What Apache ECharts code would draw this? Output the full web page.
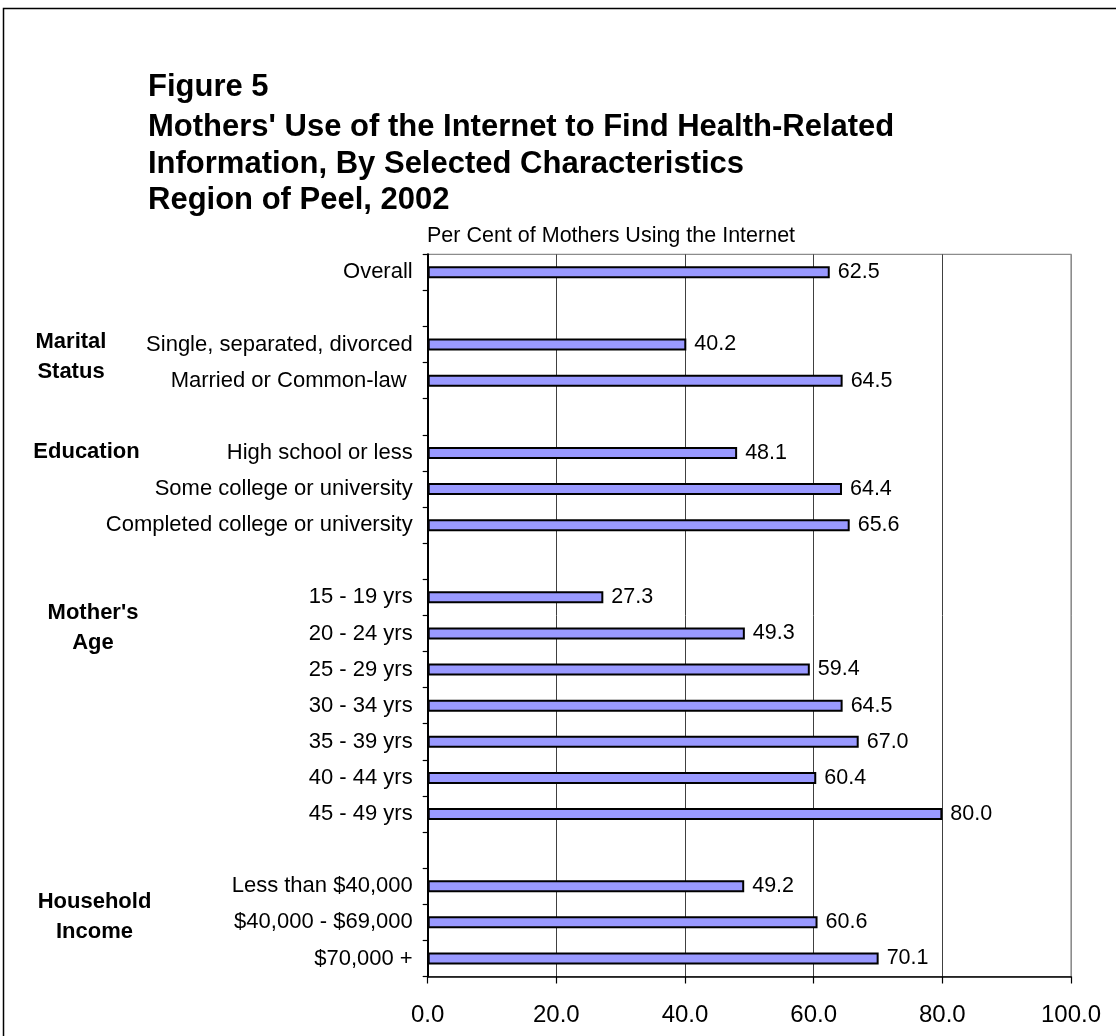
<!DOCTYPE html>
<html><head><meta charset="utf-8">
<script src="https://cdn.jsdelivr.net/npm/echarts@6/dist/echarts.min.js"></script>
<style>html,body{margin:0;padding:0;background:#fff}#c{width:1116px;height:1036px}</style>
</head><body><div id="c"></div><script>
const titleLines = ["Figure 5", "Mothers' Use of the Internet to Find Health-Related", "Information, By Selected Characteristics", "Region of Peel, 2002"];
const axisTitle = "Per Cent of Mothers Using the Internet";
const categories = ["Overall", "", "Single, separated, divorced", "Married or Common-law ", "",
  "High school or less", "Some college or university", "Completed college or university", "",
  "15 - 19 yrs", "20 - 24 yrs", "25 - 29 yrs", "30 - 34 yrs", "35 - 39 yrs", "40 - 44 yrs", "45 - 49 yrs", "",
  "Less than $40,000", "$40,000 - $69,000", "$70,000 +"];
const values = [62.5, '-', 40.2, 64.5, '-', 48.1, 64.4, 65.6, '-', 27.3, 49.3, 59.4, 64.5, 67.0, 60.4, 80.0, '-', 49.2, 60.6, 70.1];
const xMin = 0, xMax = 100, xStep = 20;
const groupMarital = ["Marital", "Status"];
const groupEducation = ["Education"];
const groupAge = ["Mother's", "Age"];
const groupIncome = ["Household", "Income"];

const FONT = "'Liberation Sans', Arial, sans-serif";
const chart = echarts.init(document.getElementById('c'), null, {renderer: 'canvas'});

function txt(text, x, y, size, bold, align, extra) {
  return Object.assign({
    type: 'text', x: x, y: y,
    style: { text: text, font: (bold ? 'bold ' : '') + size + 'px ' + FONT, fill: '#000',
      textAlign: align || 'left', textVerticalAlign: 'middle' }
  }, extra || {});
}

const graphics = [
  { type: 'rect', shape: { x: 3.5, y: 8.5, width: 1300, height: 1300 }, style: { fill: 'none', stroke: '#000', lineWidth: 1.5 } },
  txt(titleLines[0], 148, 87, 31, true),
  txt(titleLines[1], 148, 127, 31, true),
  txt(titleLines[2], 148, 164, 31, true),
  txt(titleLines[3], 148, 200, 31, true),
  txt(axisTitle, 427, 236, 21.5, false),
  txt(groupMarital[0], 71, 342, 22, true, 'center'),
  txt(groupMarital[1], 71, 372, 22, true, 'center'),
  txt(groupEducation[0], 86.5, 452, 22, true, 'center'),
  txt(groupAge[0], 93, 613, 22, true, 'center'),
  txt(groupAge[1], 93, 643, 22, true, 'center'),
  txt(groupIncome[0], 94.5, 902, 22, true, 'center'),
  txt(groupIncome[1], 94.5, 932, 22, true, 'center')
];

chart.setOption({
  animation: false,
  backgroundColor: '#fff',
  textStyle: { fontFamily: FONT },
  grid: { left: 427.7, top: 254.3, width: 643.3, height: 722.2, show: true, borderColor: '#8c8c8c', borderWidth: 1.2, containLabel: false },
  xAxis: {
    type: 'value', min: xMin, max: xMax, interval: xStep, position: 'bottom',
    axisLine: { show: true, lineStyle: { color: '#000', width: 1.5 } },
    axisTick: { show: true, length: 7, lineStyle: { color: '#000', width: 1.2 } },
    axisLabel: { fontSize: 24, color: '#000', margin: 27, formatter: v => v.toFixed(1), fontFamily: FONT },
    splitLine: { show: true, lineStyle: { color: ['#8c8c8c', '#404040', '#404040', '#404040', '#404040', '#8c8c8c'], width: 1 } }
  },
  yAxis: {
    type: 'category', inverse: true, data: categories, boundaryGap: true,
    axisLine: { show: true, onZero: false, lineStyle: { color: '#000', width: 2 } },
    axisTick: { show: true, length: 5, interval: 0, lineStyle: { color: '#000', width: 1.2 } },
    axisLabel: { fontSize: 22, color: '#000', margin: 15, interval: 0, fontFamily: FONT },
    splitLine: { show: false }
  },
  series: [{
    type: 'bar', data: values, barWidth: 12,
    itemStyle: { color: '#9999FF', borderColor: '#000', borderWidth: 2 },
    label: { show: true, position: 'right', distance: 8, fontSize: 21.5, color: '#000', fontFamily: FONT,
      formatter: p => (typeof p.value === 'number' ? p.value.toFixed(1) : '') }
  }],
  graphic: graphics
});
</script></body></html>
